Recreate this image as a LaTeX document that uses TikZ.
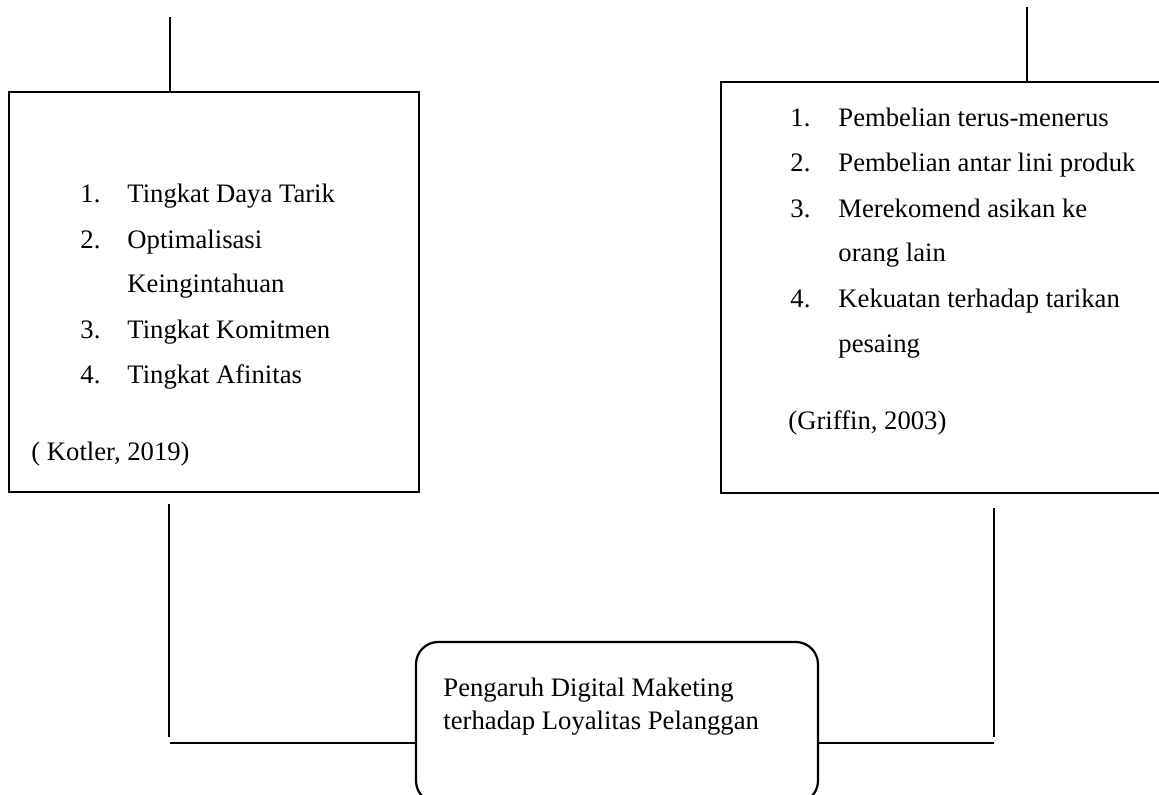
\documentclass[tikz,border=0pt]{standalone}
\usepackage{fontspec}
\setmainfont{Liberation Serif}
\usetikzlibrary{fit}
\begin{document}
\begin{tikzpicture}[x=0.45pt,y=-0.45pt,
  box/.style={draw, line width=1.25pt, inner sep=0pt},
  rbox/.style={draw, line width=1pt, inner sep=0pt, rounded corners=10pt},
  conn/.style={line width=0.5pt},
  txt/.style={anchor=base west, inner sep=0pt, font=\fontsize{12pt}{14pt}\selectfont}]
\clip (0,0) rectangle (1159,795);
% boxes
\node[box, fit={(9,92) (419,492)}] (lb) {};
\node[box, fit={(721,82) (1175,493)}] (rb) {};
\node[rbox, fit={(416,642) (818,803)}] (bb) {};
% left box text
\node[txt] (ln1) at (80,203) {1.};
\node[txt] (lt1) at (127,203) {Tingkat Daya Tarik};
\node[txt] (ln2) at (80,248) {2.};
\node[txt] (lt2) at (127,248) {Optimalisasi};
\node[txt] (lt2b) at (127,293) {Keingintahuan};
\node[txt] (ln3) at (80,338) {3.};
\node[txt] (lt3) at (127,338) {Tingkat Komitmen};
\node[txt] (ln4) at (80,383) {4.};
\node[txt] (lt4) at (127,383) {Tingkat Afinitas};
\node[txt] (lref) at (31,460) {( Kotler, 2019)};
% right box text
\node[txt] (rn1) at (790,127) {1.};
\node[txt] (rt1) at (838,127) {Pembelian terus-menerus};
\node[txt] (rn2) at (790,172) {2.};
\node[txt] (rt2) at (838,172) {Pembelian antar lini produk};
\node[txt] (rn3) at (790,217) {3.};
\node[txt] (rt3) at (838,217) {Merekomend asikan ke};
\node[txt] (rt3b) at (838,262) {orang lain};
\node[txt] (rn4) at (790,307) {4.};
\node[txt] (rt4) at (838,307) {Kekuatan terhadap tarikan};
\node[txt] (rt4b) at (838,352) {pesaing};
\node[txt] (rref) at (788,429) {(Griffin, 2003)};
% bottom box text
\node[txt] (bt1) at (443,696) {Pengaruh Digital Maketing};
\node[txt] (bt2) at (443,729) {terhadap Loyalitas Pelanggan};
% connectors
\coordinate (ltop) at (170,17);
\coordinate (rtop) at (1027,7);
\coordinate (lv1) at (169,504);
\coordinate (lv2) at (169,737);
\coordinate (lh) at (170,743);
\coordinate (rv1) at (994,508);
\coordinate (rv2) at (994,737);
\coordinate (rh) at (994,743);
\draw[conn] (ltop) -- (ltop |- lb.north);
\draw[conn] (rtop) -- (rtop |- rb.north);
\draw[conn] (lv1) -- (lv2);
\draw[conn] (lh) -- (lh -| bb.west);
\draw[conn] (rv1) -- (rv2);
\draw[conn] (rh) -- (rh -| bb.east);
\end{tikzpicture}
\end{document}
